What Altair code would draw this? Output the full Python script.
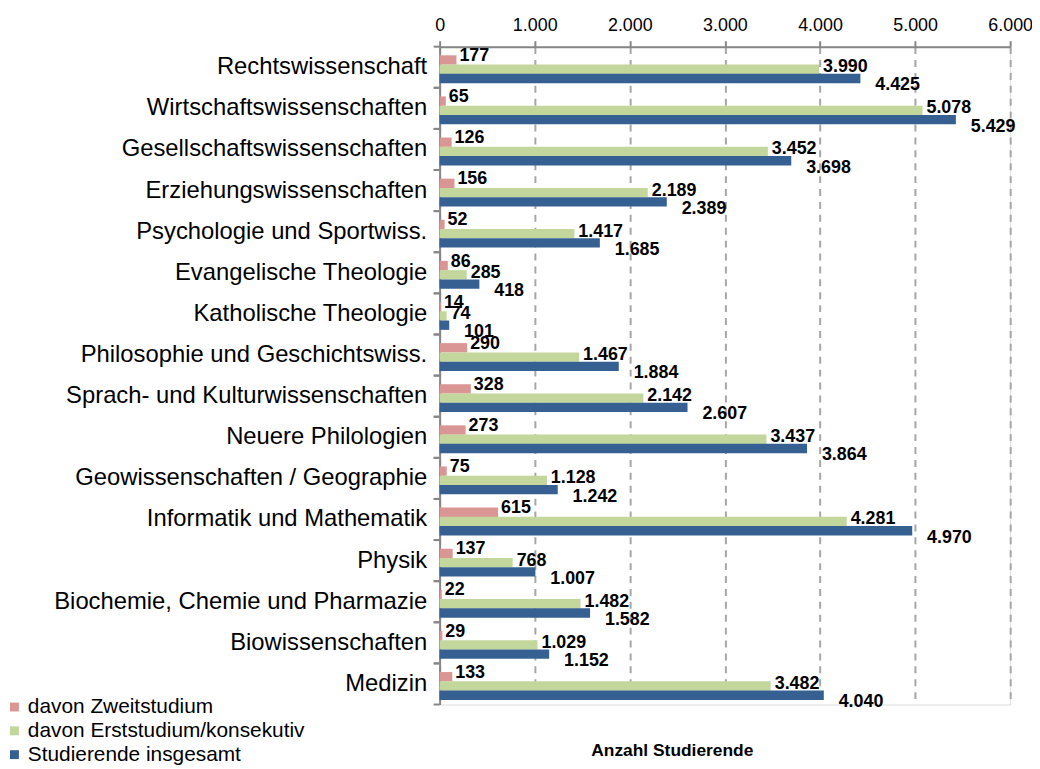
import altair as alt
import pandas as pd

categories = [
    "Rechtswissenschaft", "Wirtschaftswissenschaften", "Gesellschaftswissenschaften",
    "Erziehungswissenschaften", "Psychologie und Sportwiss.", "Evangelische Theologie",
    "Katholische Theologie", "Philosophie und Geschichtswiss.", "Sprach- und Kulturwissenschaften",
    "Neuere Philologien", "Geowissenschaften / Geographie", "Informatik und Mathematik",
    "Physik", "Biochemie, Chemie und Pharmazie", "Biowissenschaften", "Medizin",
]
zweit = [177, 65, 126, 156, 52, 86, 14, 290, 328, 273, 75, 615, 137, 22, 29, 133]
erst = [3990, 5078, 3452, 2189, 1417, 285, 74, 1467, 2142, 3437, 1128, 4281, 768, 1482, 1029, 3482]
gesamt = [4425, 5429, 3698, 2389, 1685, 418, 101, 1884, 2607, 3864, 1242, 4970, 1007, 1582, 1152, 4040]

series = ["davon Zweitstudium", "davon Erststudium/konsekutiv", "Studierende insgesamt"]
colors = ["#DA9694", "#C3D69B", "#376092"]
x_ticks = [0, 1000, 2000, 3000, 4000, 5000, 6000]

rows = []
for s, vals in zip(series, [zweit, erst, gesamt]):
    for c, v in zip(categories, vals):
        rows.append({"Fach": c, "Serie": s, "Wert": v,
                     "Label": f"{v:,}".replace(",", ".")})
df = pd.DataFrame(rows)

FONT = "Liberation Sans"

y_enc = alt.Y("Fach:N", sort=categories,
              scale=alt.Scale(paddingInner=0, paddingOuter=0),
              axis=alt.Axis(title=None, labelFontSize=24, labelFont=FONT, labelColor="#000",
                            labelPadding=13, ticks=False, domainColor="#868686",
                            domainWidth=2, labelLimit=500))
yoff = alt.YOffset("Serie:N", sort=series,
                   scale=alt.Scale(paddingInner=0, paddingOuter=0.72, align=0.65))

x_enc = alt.X("Wert:Q", scale=alt.Scale(domain=[0, 6000], nice=False),
              axis=alt.Axis(orient="top", values=x_ticks,
                            labelExpr="replace(format(datum.value, ','), ',', '.')",
                            labelFontSize=18, labelFont=FONT, labelColor="#000",
                            labelPadding=6, tickSize=6, tickColor="#868686", tickWidth=2,
                            domainColor="#868686", domainWidth=2,
                            grid=True, gridColor="#A6A6A6", gridDash=[7, 6], gridWidth=2,
                            title="Anzahl Studierende", titleFont=FONT, titleFontSize=17.5,
                            titleFontWeight="bold", titleColor="#000",
                            titleX=234, titleY=709, titleAlign="center",
                            titleBaseline="middle", labelFlush=False))

bars = alt.Chart(df).mark_bar(size=9.4).encode(
    x=x_enc,
    y=y_enc,
    yOffset=yoff,
    color=alt.Color("Serie:N", sort=series,
                    scale=alt.Scale(domain=series, range=colors),
                    legend=alt.Legend(title=None, orient="none", legendX=-439, legendY=655,
                                      labelFont=FONT, labelFontSize=21, labelColor="#000",
                                      symbolType="square", symbolSize=81,
                                      symbolStrokeWidth=0, symbolOpacity=1,
                                      labelOffset=3, rowPadding=2, padding=0,
                                      labelLimit=400)),
)

def labels(s, dx, dy):
    return alt.Chart(df).transform_filter(alt.datum.Serie == s).mark_text(
        align="left", baseline="middle", dx=dx, dy=dy, font=FONT,
        fontSize=18, fontWeight="bold", color="#000"
    ).encode(
        x=alt.X("Wert:Q"),
        y=alt.Y("Fach:N", sort=categories),
        yOffset=alt.YOffset("Serie:N", sort=series),
        text="Label:N",
    )

ticks_top = alt.Chart(df).transform_filter(alt.datum.Serie == series[0]).mark_rule(
    color="#868686", strokeWidth=2
).encode(
    y=alt.Y("Fach:N", sort=categories, bandPosition=0),
    x=alt.value(-6), x2=alt.value(0),
)
ticks_bot = alt.Chart(df).transform_filter(alt.datum.Serie == series[0]).mark_rule(
    color="#868686", strokeWidth=2
).encode(
    y=alt.Y("Fach:N", sort=categories, bandPosition=1),
    x=alt.value(-6), x2=alt.value(0),
)

chart = alt.layer(
    bars, ticks_top, ticks_bot,
    labels(series[0], 3, -4),
    labels(series[1], 4, -2),
    labels(series[2], 15, 7),
).properties(
    width=575, height=663,
    autosize=alt.AutoSizeParams(type="none"),
    padding={"left": 435, "top": 36, "right": 22, "bottom": 62},
).configure_view(stroke=None).configure(background="white")

chart.save("out.html", embed_options={"renderer": "svg", "actions": False})
